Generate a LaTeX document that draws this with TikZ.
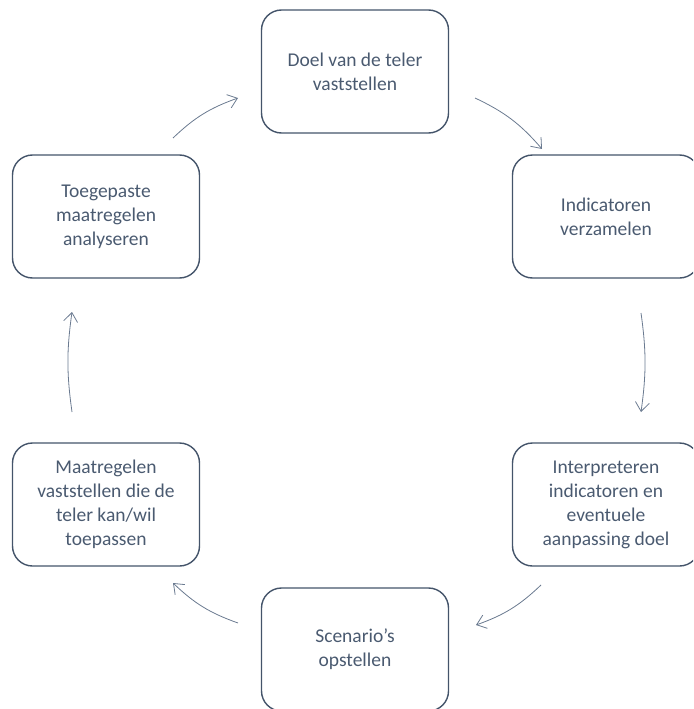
\documentclass[tikz,border=0pt]{standalone}
\usepackage{fontspec}
\setmainfont{Carlito}
\usetikzlibrary{arrows.meta}
\definecolor{boxc}{HTML}{44546A}
\definecolor{txtc}{HTML}{4A5A70}
\definecolor{arrc}{HTML}{6A7A90}
\begin{document}
\begin{tikzpicture}[x=1pt,y=-1pt,
  stepbox/.style={draw=boxc, line width=1.4pt, rounded corners=20pt,
    minimum width=187pt, minimum height=123pt, align=center,
    text=txtc, font=\fontsize{19.5}{24}\selectfont, inner sep=0pt},
  cyc/.style={draw=arrc, line width=0.8pt,
    -{Straight Barb[length=9pt,width=14pt,line width=0.8pt]}, bend left=12}]
\useasboundingbox (0,0) rectangle (693,709);
\clip (0,0) rectangle (693,709);
\node[stepbox] (doel) at (355,71.5) {Doel van de teler\\vaststellen};
\node[stepbox] (ind) at (606,216.5) {Indicatoren\\verzamelen};
\node[stepbox] (interp) at (606,504.5) {Interpreteren\\indicatoren en\\eventuele\\aanpassing doel};
\node[stepbox] (scen) at (355,649.5) {Scenario’s\\opstellen};
\node[stepbox] (maat) at (106,504.5) {Maatregelen\\vaststellen die de\\teler kan/wil\\toepassen};
\node[stepbox] (toeg) at (106,216.5) {Toegepaste\\maatregelen\\analyseren};
\coordinate (a1s) at (173,138); \coordinate (a1e) at (238,98);
\coordinate (a2s) at (475,98); \coordinate (a2e) at (542,149);
\coordinate (a3s) at (641,313); \coordinate (a3e) at (641,412);
\coordinate (a4s) at (541,585); \coordinate (a4e) at (476,625);
\coordinate (a5s) at (238,623); \coordinate (a5e) at (173,583);
\coordinate (a6s) at (72,412); \coordinate (a6e) at (72,312);
\draw[cyc] (a1s) to (a1e);
\draw[cyc] (a2s) to (a2e);
\draw[cyc,bend left=8] (a3s) to (a3e);
\draw[cyc] (a4s) to (a4e);
\draw[cyc] (a5s) to (a5e);
\draw[cyc,bend left=8] (a6s) to (a6e);
\end{tikzpicture}
\end{document}
